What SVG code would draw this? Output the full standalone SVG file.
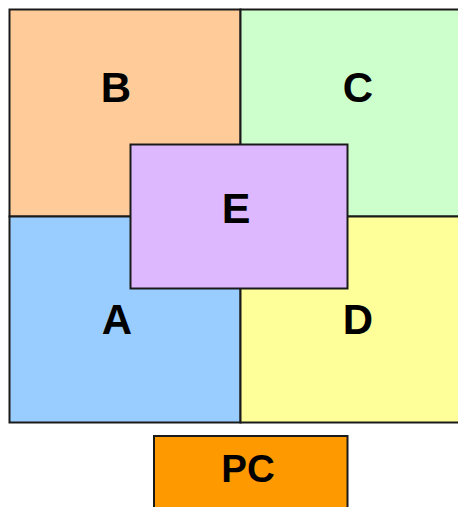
<svg xmlns="http://www.w3.org/2000/svg" width="458" height="507" viewBox="0 0 458 507">
<style>
.box{stroke:#1a1a1a;stroke-width:2}
.lbl{font-family:"Liberation Sans",Arial,sans-serif;font-weight:bold;font-size:42px;fill:#000;text-anchor:middle}
</style>
<rect width="458" height="507" fill="#fff"/>
<g id="B"><rect class="box" x="9.5" y="9.5" width="231" height="207" fill="#FFCC99"/><text class="lbl" x="116" y="102">B</text></g>
<g id="C"><rect class="box" x="240.5" y="9.5" width="230" height="207" fill="#CCFFCC"/><text class="lbl" x="358" y="102">C</text></g>
<g id="A"><rect class="box" x="9.5" y="216.5" width="231" height="206" fill="#99CCFF"/><text class="lbl" x="117" y="334">A</text></g>
<g id="D"><rect class="box" x="240.5" y="216.5" width="230" height="206" fill="#FFFF99"/><text class="lbl" x="358" y="334">D</text></g>
<g id="E"><rect class="box" x="130.5" y="144.5" width="217" height="144" fill="#DDB8FF"/><text class="lbl" x="236" y="222.5" style="font-size:43px">E</text></g>
<g id="PC"><rect class="box" x="154" y="436" width="193.5" height="80" fill="#FF9900"/><text class="lbl" x="248" y="481.5" style="font-size:38.5px">PC</text></g>
<g id="connectors"></g>
</svg>
